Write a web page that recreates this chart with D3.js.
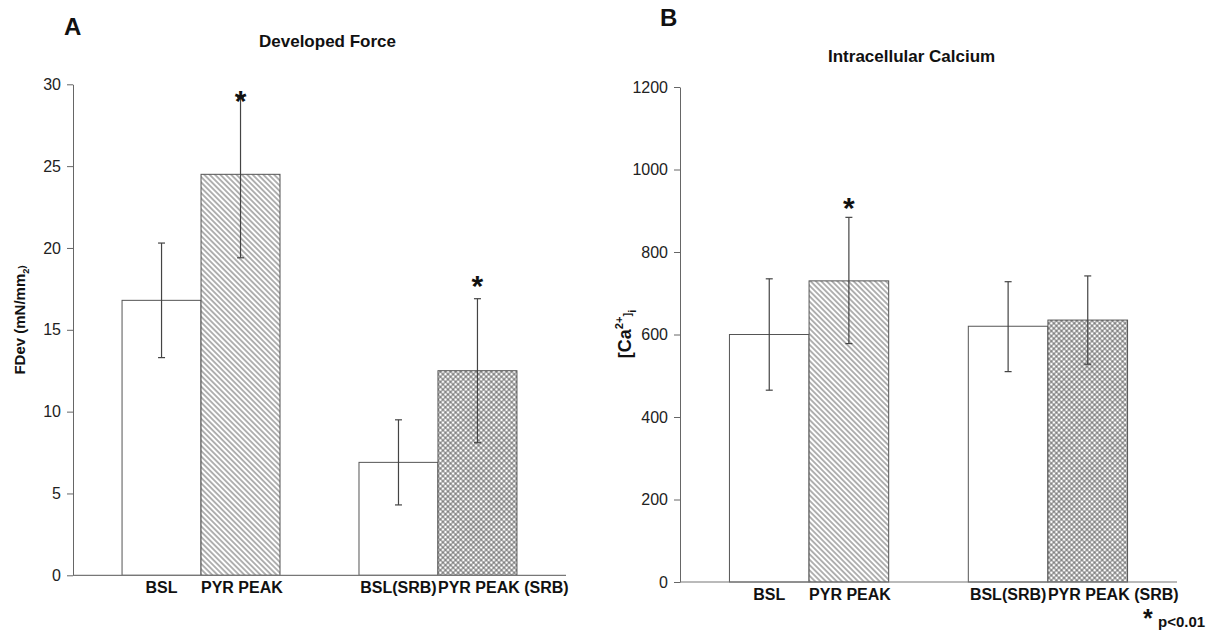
<!DOCTYPE html>
<html>
<head>
<meta charset="utf-8">
<script src="https://cdn.jsdelivr.net/npm/d3@7"></script>
<style>
  body { margin: 0; background: #fff; }
  svg { display: block; font-family: "Liberation Sans", Arial, Helvetica, sans-serif; }
</style>
</head>
<body>
<svg id="chart" width="1213" height="632"></svg>
<script>
// ---- data ----
const categories = ['BSL', 'PYR PEAK', 'BSL(SRB)', 'PYR PEAK (SRB)'];
const groups     = ['Control', 'SRB'];
const groupOf    = ['Control', 'Control', 'SRB', 'SRB'];

const forceMean = [16.8, 24.5, 6.9, 12.5];
const forceLow  = [13.3, 19.4, 4.3, 8.1];
const forceHigh = [20.3, 29.2, 9.5, 16.9];
const forceSig  = [false, true, false, true];
const forceTicks = [0, 5, 10, 15, 20, 25, 30];

const calciumMean = [600, 730, 620, 635];
const calciumLow  = [465, 578, 510, 528];
const calciumHigh = [735, 884, 728, 742];
const calciumSig  = [false, true, false, false];
const calciumTicks = [0, 200, 400, 600, 800, 1000, 1200];

const svg = d3.select('#chart');

// ---- hatch patterns ----
const defs = svg.append('defs');

const diag = defs.append('pattern')
  .attr('id', 'hatch-diag')
  .attr('patternUnits', 'userSpaceOnUse')
  .attr('width', 3.8).attr('height', 3.8)
  .attr('patternTransform', 'rotate(-45)');
diag.append('rect').attr('width', 3.8).attr('height', 3.8).attr('fill', '#fff');
diag.append('line')
  .attr('x1', 1.9).attr('y1', 0).attr('x2', 1.9).attr('y2', 3.8)
  .attr('stroke', '#555').attr('stroke-width', 0.9);

const cross = defs.append('pattern')
  .attr('id', 'hatch-cross')
  .attr('patternUnits', 'userSpaceOnUse')
  .attr('width', 3.6).attr('height', 3.6)
  .attr('patternTransform', 'rotate(45)');
cross.append('rect').attr('width', 3.6).attr('height', 3.6).attr('fill', '#fff');
cross.append('line')
  .attr('x1', 1.8).attr('y1', 0).attr('x2', 1.8).attr('y2', 3.6)
  .attr('stroke', '#555').attr('stroke-width', 0.85);
cross.append('line')
  .attr('x1', 0).attr('y1', 1.8).attr('x2', 3.6).attr('y2', 1.8)
  .attr('stroke', '#555').attr('stroke-width', 0.85);

const barFill = ['#fff', 'url(#hatch-diag)', '#fff', 'url(#hatch-cross)'];

function drawPanel(cfg) {
  const y = d3.scaleLinear().domain([0, cfg.ticks[cfg.ticks.length - 1]]).range([cfg.bottom, cfg.top]);

  const xGroup = d3.scaleBand().domain(groups)
    .range([cfg.left, cfg.right])
    .paddingInner(1 / 3).paddingOuter(0.207);
  const xInner = d3.scaleBand().domain([0, 1]).range([0, xGroup.bandwidth()]);
  const barX = i => xGroup(groupOf[i]) + xInner(i % 2);
  const bw = xInner.bandwidth();

  const rows = categories.map((c, i) => ({
    key: c, i, mean: cfg.mean[i], low: cfg.low[i], high: cfg.high[i], sig: cfg.sig[i]
  }));

  const g = svg.append('g');

  // bars
  g.selectAll('.bar')
    .data(rows)
    .join('rect')
      .attr('class', 'bar')
      .attr('x', d => barX(d.i))
      .attr('y', d => y(d.mean))
      .attr('width', bw)
      .attr('height', d => y(0) - y(d.mean))
      .attr('fill', d => barFill[d.i])
      .attr('stroke', '#555')
      .attr('stroke-width', 1);

  // error bars
  const eb = g.selectAll('.err').data(rows).join('g').attr('class', 'err')
    .attr('stroke', '#444').attr('stroke-width', 1.2);
  eb.append('line')
    .attr('x1', d => barX(d.i) + bw / 2).attr('x2', d => barX(d.i) + bw / 2)
    .attr('y1', d => y(d.low)).attr('y2', d => y(d.high));
  eb.append('line')
    .attr('x1', d => barX(d.i) + bw / 2 - 3.5).attr('x2', d => barX(d.i) + bw / 2 + 3.5)
    .attr('y1', d => y(d.low)).attr('y2', d => y(d.low));
  eb.append('line')
    .attr('x1', d => barX(d.i) + bw / 2 - 3.5).attr('x2', d => barX(d.i) + bw / 2 + 3.5)
    .attr('y1', d => y(d.high)).attr('y2', d => y(d.high));

  // significance stars
  g.selectAll('.star')
    .data(rows.filter(d => d.sig))
    .join('text')
      .attr('class', 'star')
      .attr('x', d => barX(d.i) + bw / 2)
      .attr('y', d => Math.max(y(d.high) - cfg.starGap, cfg.top + 10) + 17)
      .attr('text-anchor', 'middle')
      .attr('font-size', 30)
      .attr('font-weight', 'bold')
      .attr('fill', '#111')
      .text('*');

  // y axis
  const yAxis = g.append('g')
    .attr('transform', `translate(${cfg.left},0)`)
    .call(d3.axisLeft(y).tickValues(cfg.ticks).tickFormat(d3.format('d'))
      .tickSize(6).tickPadding(6).tickSizeOuter(0));
  yAxis.select('.domain').attr('stroke', '#666');
  yAxis.selectAll('.tick line').attr('stroke', '#666');
  yAxis.selectAll('.tick text')
    .attr('font-size', 16)
    .attr('font-family', '"Liberation Sans", Arial, sans-serif')
    .attr('fill', '#222');

  // x baseline
  g.append('line')
    .attr('x1', cfg.left).attr('x2', cfg.right)
    .attr('y1', y(0)).attr('y2', y(0))
    .attr('stroke', '#777').attr('stroke-width', 1.2);

  // category labels: centred if they fit, otherwise start at the bar edge
  g.selectAll('.cat')
    .data(rows)
    .join('text')
      .attr('class', 'cat')
      .attr('y', y(0) + 18)
      .attr('font-size', 16)
      .attr('font-weight', 'bold')
      .attr('fill', '#111')
      .text(d => d.key)
      .attr('x', function(d) {
        const w = this.getComputedTextLength();
        return w < bw ? barX(d.i) + bw / 2 - w / 2 : barX(d.i);
      });

  // titles
  g.append('text')
    .attr('x', cfg.titleX).attr('y', cfg.titleY)
    .attr('font-size', 17).attr('font-weight', 'bold').attr('fill', '#111')
    .text(cfg.title);
  g.append('text')
    .attr('x', cfg.letterX).attr('y', cfg.letterY)
    .attr('font-size', 24).attr('font-weight', 'bold').attr('fill', '#111')
    .text(cfg.letter);

  // y label
  const yl = g.append('text')
    .attr('transform', `translate(${cfg.ylabelX},${cfg.ylabelY}) rotate(-90)`)
    .attr('text-anchor', 'middle')
    .attr('font-size', cfg.ylabelSize).attr('font-weight', 'bold').attr('fill', '#111');
  cfg.ylabel.forEach(part => {
    const t = yl.append('tspan').text(part.t);
    if (part.shift) t.attr('dy', part.shift).attr('font-size', cfg.ylabelSize * 0.62);
  });
}

drawPanel({
  left: 73, right: 566, top: 84.3, bottom: 575.3,
  ticks: forceTicks, mean: forceMean, low: forceLow, high: forceHigh, sig: forceSig,
  starGap: 20,
  title: 'Developed Force', titleX: 259, titleY: 47,
  letter: 'A', letterX: 64, letterY: 35,
  ylabelX: 25, ylabelY: 320, ylabelSize: 15,
  ylabel: [{ t: 'FDev (mN/mm' }, { t: '2', shift: 4 }, { t: ')', shift: -4 }]
});

drawPanel({
  left: 680, right: 1177, top: 87, bottom: 582,
  ticks: calciumTicks, mean: calciumMean, low: calciumLow, high: calciumHigh, sig: calciumSig,
  starGap: 16,
  title: 'Intracellular Calcium', titleX: 828, titleY: 62,
  letter: 'B', letterX: 660, letterY: 26,
  ylabelX: 631, ylabelY: 334, ylabelSize: 18,
  ylabel: [{ t: '[Ca' }, { t: '2+', shift: -8 }, { t: ']', shift: 8 }, { t: 'i', shift: 5 }]
});

// significance note
svg.append('text')
  .attr('x', 1143).attr('y', 627)
  .attr('font-size', 25).attr('font-weight', 'bold').attr('fill', '#111')
  .text('*');
svg.append('text')
  .attr('x', 1158).attr('y', 627)
  .attr('font-size', 15).attr('font-weight', 'bold').attr('fill', '#111')
  .text('p<0.01');
</script>
</body>
</html>
